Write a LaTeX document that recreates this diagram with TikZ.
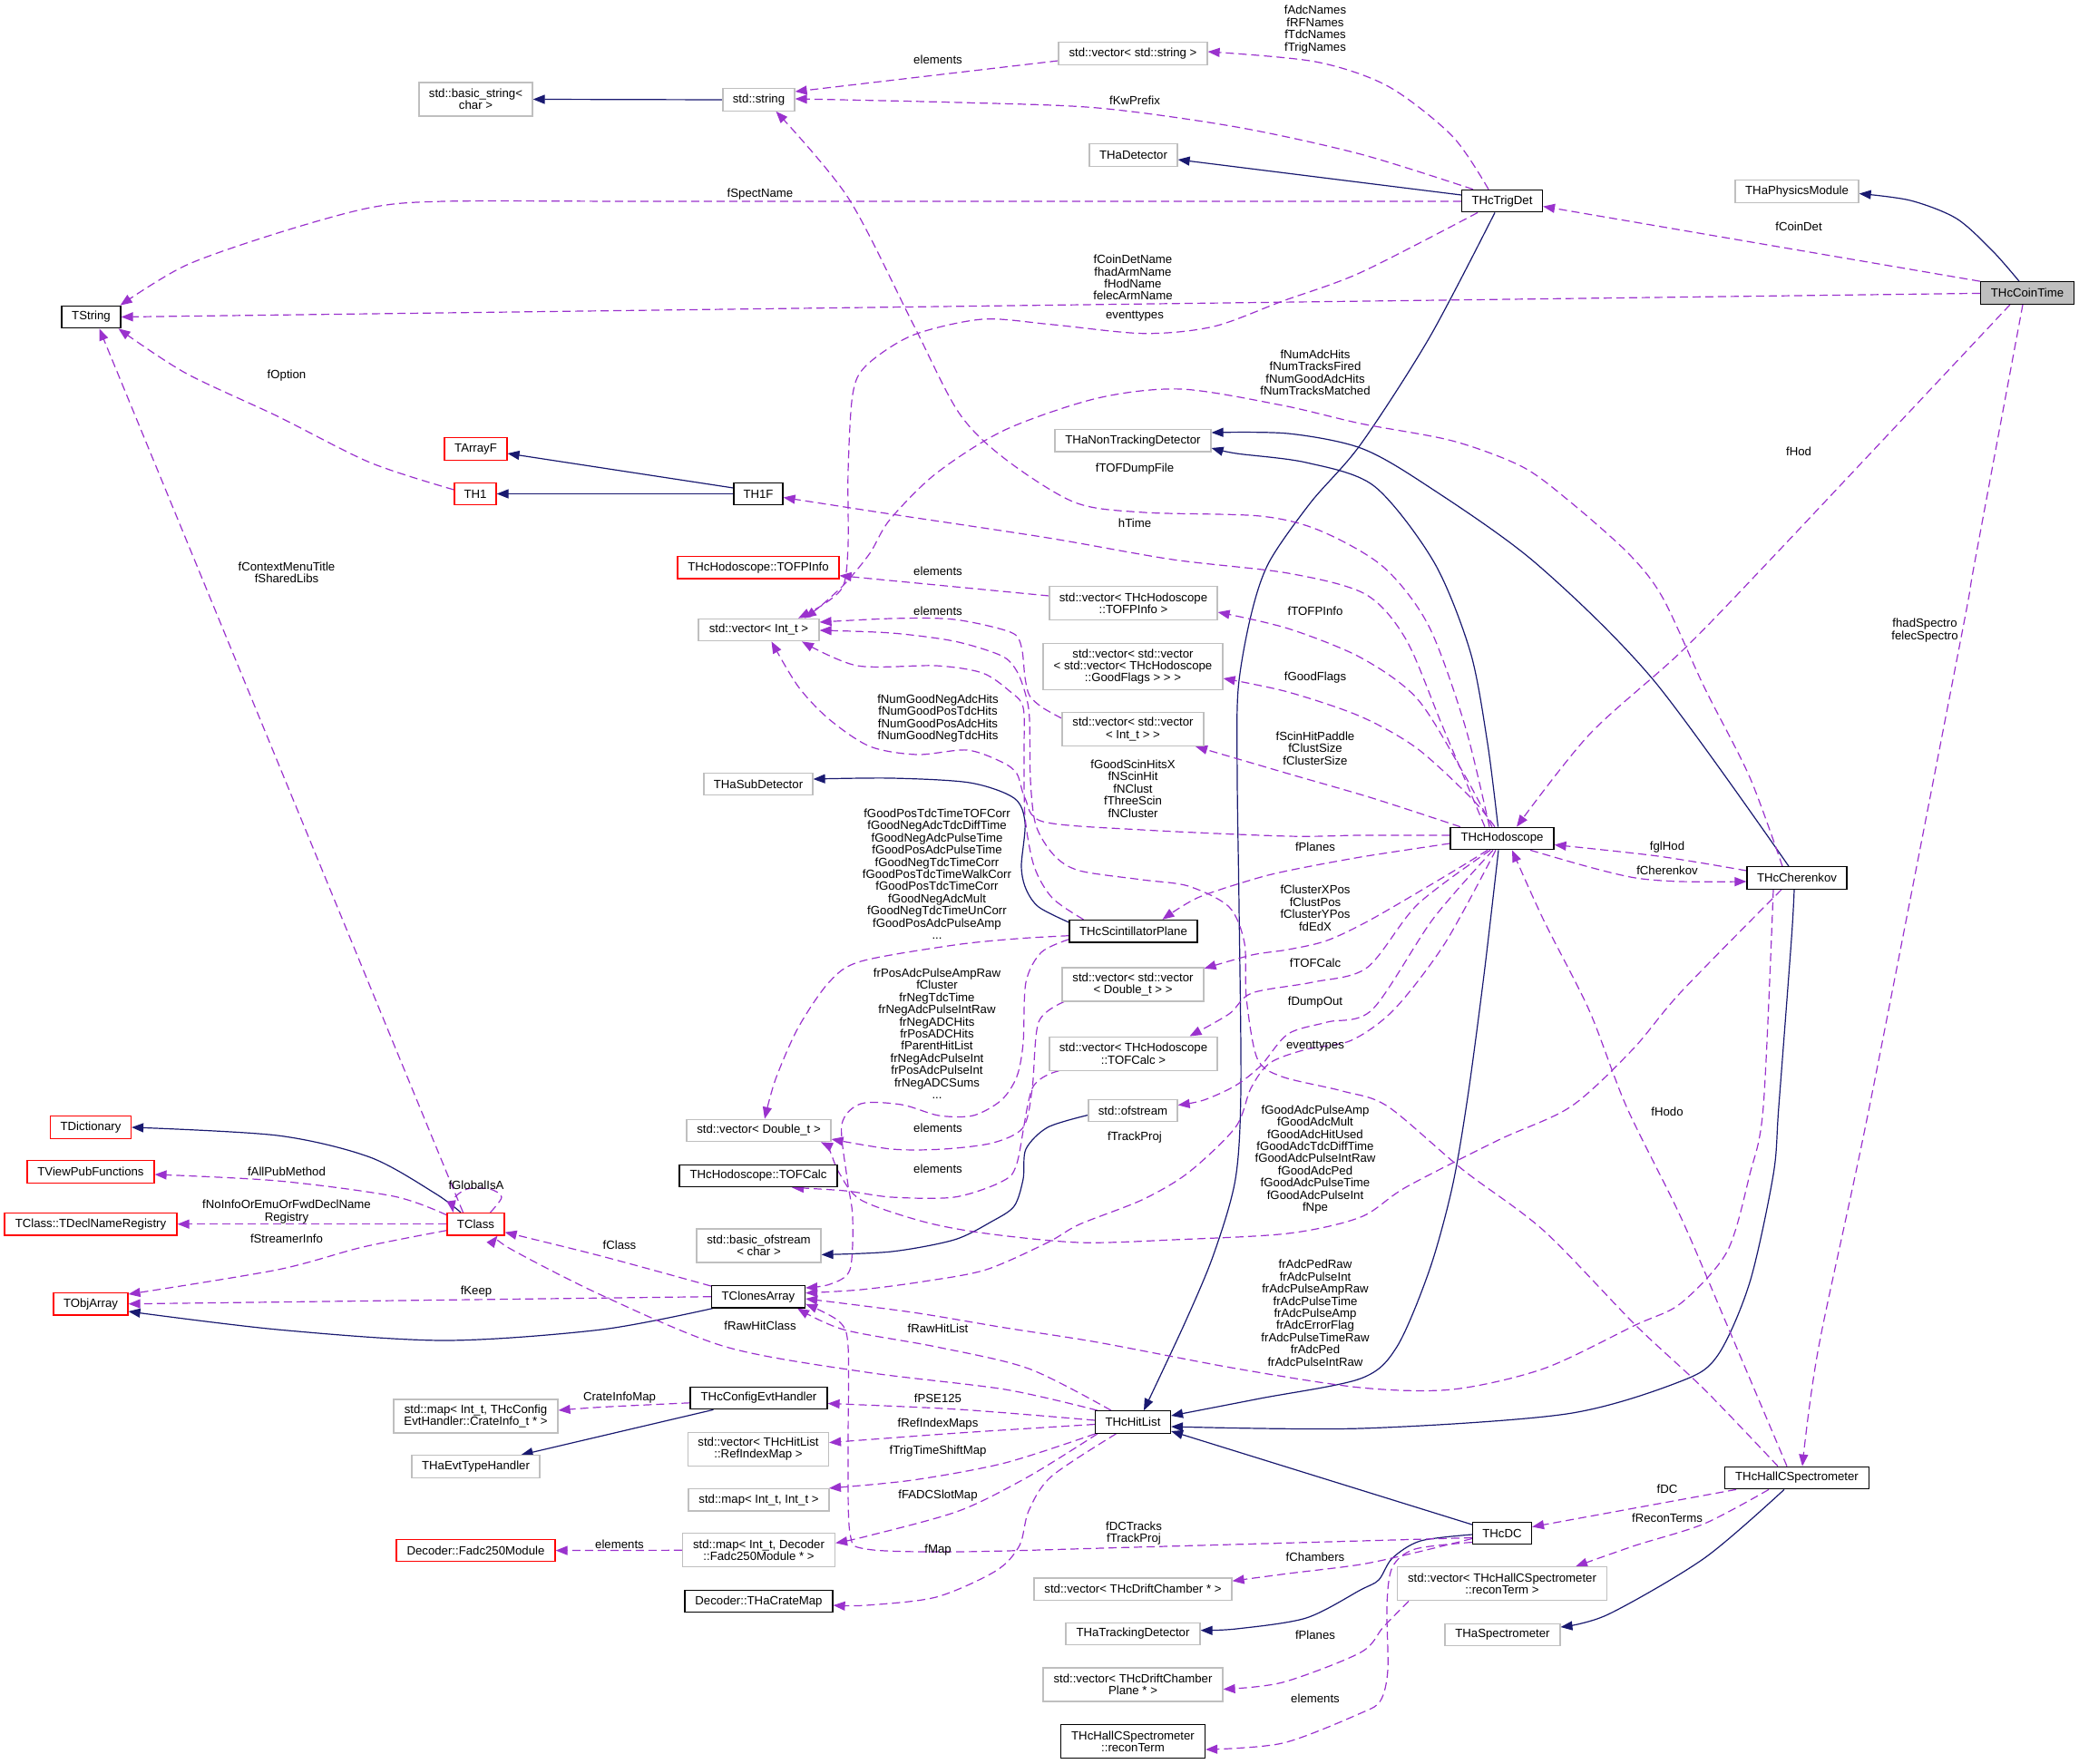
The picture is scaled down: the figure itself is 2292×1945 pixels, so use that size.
\documentclass[tikz,border=0pt]{standalone}
\usepackage{fontspec}
\setmainfont{Liberation Sans}
\usetikzlibrary{arrows.meta,backgrounds}
\definecolor{eblue}{HTML}{191970}
\definecolor{epurp}{HTML}{9A32CD}
\definecolor{bgray}{HTML}{BFBFBF}
\tikzset{
 nb/.style={draw, line width=1.2pt, fill=white, inner xsep=4pt, inner ysep=0pt, minimum height=24.5pt, align=center, font=\fontsize{13.2}{13.4}\selectfont},
 gb/.style={nb, draw=bgray},
 rb/.style={nb, draw=red},
 kb/.style={nb, draw=black},
 h2/.style={minimum height=37pt},
 h3/.style={minimum height=50.6pt},
 lb/.style={inner sep=0pt, align=center, font=\fontsize{13.2}{13.4}\selectfont},
 inh/.style={draw=eblue, line width=1.2pt, -{Triangle[length=13pt,width=10pt]}},
 use/.style={draw=epurp, line width=1.2pt, dash pattern=on 9pt off 5pt, -{Triangle[length=13pt,width=10pt]}},
}
\begin{document}
\begin{tikzpicture}[x=1pt,y=-1pt]
\useasboundingbox (0,0) rectangle (2292,1945);
% ---------------- nodes ----------------
\node[gb, minimum width=125pt, h2] (bstr) at (524.5,109.5) {std::basic\_string<\\char >};
\node[gb, minimum width=79pt] (str) at (836.5,110) {std::string};
\node[gb, minimum width=164pt] (vstr) at (1249,59) {std::vector< std::string >};
\node[gb, minimum width=97pt] (thadet) at (1249.5,171) {THaDetector};
\node[kb, minimum width=89pt] (trig) at (1656,221.6) {THcTrigDet};
\node[gb, minimum width=136pt] (phys) at (1981,211) {THaPhysicsModule};
\node[kb, fill=bgray, minimum width=103pt] (coin) at (2235,323) {THcCoinTime};
\node[kb, minimum width=65pt] (tstr) at (100.5,349.5) {TString};
\node[rb, minimum width=69pt] (tarrf) at (524.5,495) {TArrayF};
\node[rb, minimum width=46pt] (th1) at (524,544.5) {TH1};
\node[kb, minimum width=54pt] (th1f) at (836,544.5) {TH1F};
\node[gb, minimum width=172pt] (nontrk) at (1249,485.7) {THaNonTrackingDetector};
\node[rb, minimum width=178pt] (tofpinfo) at (836,625.7) {THcHodoscope::TOFPInfo};
\node[gb, minimum width=185pt, h2] (vtofp) at (1249.5,665) {std::vector< THcHodoscope\\::TOFPInfo >};
\node[gb, minimum width=133pt] (vint) at (836.5,694.5) {std::vector< Int\_t >};
\node[gb, minimum width=198pt, h3] (vgf) at (1249,735) {std::vector< std::vector\\< std::vector< THcHodoscope\\::GoodFlags > > >};
\node[gb, minimum width=156pt, h2] (vvint) at (1249,804) {std::vector< std::vector\\< Int\_t > >};
\node[gb, minimum width=120pt] (subdet) at (836,864.4) {THaSubDetector};
\node[kb, minimum width=114pt] (hodo) at (1656,924.5) {THcHodoscope};
\node[kb, minimum width=110pt] (cher) at (1981,968) {THcCherenkov};
\node[kb, minimum width=141pt] (scin) at (1249.5,1026.7) {THcScintillatorPlane};
\node[gb, minimum width=156pt, h2] (vvdbl) at (1249,1085.5) {std::vector< std::vector\\< Double\_t > >};
\node[gb, minimum width=185pt, h2] (vtofc) at (1249.5,1161.6) {std::vector< THcHodoscope\\::TOFCalc >};
\node[gb, minimum width=98pt] (ofs) at (1249,1224.5) {std::ofstream};
\node[gb, minimum width=159pt] (vdbl) at (836.5,1246.5) {std::vector< Double\_t >};
\node[kb, minimum width=174pt] (tofcalc) at (836,1296.5) {THcHodoscope::TOFCalc};
\node[gb, minimum width=137pt, h2] (bofs) at (836.5,1373.4) {std::basic\_ofstream\\< char >};
\node[kb, minimum width=103pt] (tca) at (836,1429.7) {TClonesArray};
\node[rb, minimum width=89pt] (tdict) at (100,1243) {TDictionary};
\node[rb, minimum width=140pt] (tview) at (100,1292) {TViewPubFunctions};
\node[rb, minimum width=190pt] (tdecl) at (100,1349.7) {TClass::TDeclNameRegistry};
\node[rb, minimum width=82pt] (tobj) at (100,1437.7) {TObjArray};
\node[rb, minimum width=63pt] (tclass) at (524.5,1349.7) {TClass};
\node[kb, minimum width=151pt] (cfg) at (836.5,1541.5) {THcConfigEvtHandler};
\node[gb, minimum width=181pt, h2] (mapcrate) at (524.5,1561.5) {std::map< Int\_t, THcConfig\\EvtHandler::CrateInfo\_t * >};
\node[gb, minimum width=141pt] (evth) at (524.5,1617) {THaEvtTypeHandler};
\node[kb, minimum width=83pt] (hitlist) at (1249,1568) {THcHitList};
\node[gb, minimum width=155pt, h2] (vref) at (836,1597.6) {std::vector< THcHitList\\::RefIndexMap >};
\node[gb, minimum width=155pt] (mapii) at (836.5,1653.7) {std::map< Int\_t, Int\_t >};
\node[gb, minimum width=168pt, h2] (mapfadc) at (836.5,1709.3) {std::map< Int\_t, Decoder\\::Fadc250Module * >};
\node[rb, minimum width=175pt] (fadc) at (524.5,1709.6) {Decoder::Fadc250Module};
\node[kb, minimum width=163pt] (crate) at (836.5,1765.6) {Decoder::THaCrateMap};
\node[kb, minimum width=159pt] (hcs) at (1981,1629.5) {THcHallCSpectrometer};
\node[kb, minimum width=65pt] (dc) at (1656,1690.5) {THcDC};
\node[gb, minimum width=218pt] (vdch) at (1249,1752.2) {std::vector< THcDriftChamber * >};
\node[gb, minimum width=231pt, h2] (vrecon) at (1656,1746.3) {std::vector< THcHallCSpectrometer\\::reconTerm >};
\node[gb, minimum width=148pt] (trkdet) at (1249,1801.4) {THaTrackingDetector};
\node[gb, minimum width=127pt] (spec) at (1656.4,1802.6) {THaSpectrometer};
\node[gb, minimum width=198pt, h2] (vdcp) at (1249,1857.5) {std::vector< THcDriftChamber\\Plane * >};
\node[kb, minimum width=159pt, h2] (recon) at (1249,1920) {THcHallCSpectrometer\\::reconTerm};
% ---------------- labels ----------------
\node[lb] (l1) at (1034,65.6) {elements};
\node[lb] (l2) at (1450,32.5) {fAdcNames\\fRFNames\\fTdcNames\\fTrigNames};
\node[lb] (l3) at (1251,110.7) {fKwPrefix};
\node[lb] (l4) at (838,214) {fSpectName};
\node[lb] (l5) at (1983,250) {fCoinDet};
\node[lb] (l6) at (1249,306) {fCoinDetName\\fhadArmName\\fHodName\\felecArmName};
\node[lb] (l7) at (1251,349) {eventtypes};
\node[lb] (l8) at (316,413.6) {fOption};
\node[lb] (l9) at (1450,410.6) {fNumAdcHits\\fNumTracksFired\\fNumGoodAdcHits\\fNumTracksMatched};
\node[lb] (l10) at (1983,498) {fHod};
\node[lb] (l11) at (1251,517) {fTOFDumpFile};
\node[lb] (l12) at (1251,577) {hTime};
\node[lb] (l13) at (316,631) {fContextMenuTitle\\fSharedLibs};
\node[lb] (l14) at (1034,629.7) {elements};
\node[lb] (l15) at (1450,674) {fTOFPInfo};
\node[lb] (l16) at (1034,673.5) {elements};
\node[lb] (l17) at (2122,695) {fhadSpectro\\felecSpectro};
\node[lb] (l18) at (1450,746.7) {fGoodFlags};
\node[lb] (l19) at (1034,792) {fNumGoodNegAdcHits\\fNumGoodPosTdcHits\\fNumGoodPosAdcHits\\fNumGoodNegTdcHits};
\node[lb] (l20) at (1450,825) {fScinHitPaddle\\fClustSize\\fClusterSize};
\node[lb] (l21) at (1249,869.5) {fGoodScinHitsX\\fNScinHit\\fNClust\\fThreeScin\\fNCluster};
\node[lb] (l22) at (1033,963.8) {fGoodPosTdcTimeTOFCorr\\fGoodNegAdcTdcDiffTime\\fGoodNegAdcPulseTime\\fGoodPosAdcPulseTime\\fGoodNegTdcTimeCorr\\fGoodPosTdcTimeWalkCorr\\fGoodPosTdcTimeCorr\\fGoodNegAdcMult\\fGoodNegTdcTimeUnCorr\\fGoodPosAdcPulseAmp\\...};
\node[lb] (l23) at (1838,934.5) {fglHod};
\node[lb] (l24) at (1450,933.3) {fPlanes};
\node[lb] (l25) at (1838,960) {fCherenkov};
\node[lb] (l26) at (1450,1001.3) {fClusterXPos\\fClustPos\\fClusterYPos\\fdEdX};
\node[lb] (l27) at (1450,1061.5) {fTOFCalc};
\node[lb] (l28) at (1033,1139.7) {frPosAdcPulseAmpRaw\\fCluster\\frNegTdcTime\\frNegAdcPulseIntRaw\\frNegADCHits\\frPosADCHits\\fParentHitList\\frNegAdcPulseInt\\frPosAdcPulseInt\\frNegADCSums\\...};
\node[lb] (l29) at (1450,1105.3) {fDumpOut};
\node[lb] (l30) at (1450,1153.6) {eventtypes};
\node[lb] (l31) at (1450,1278.4) {fGoodAdcPulseAmp\\fGoodAdcMult\\fGoodAdcHitUsed\\fGoodAdcTdcDiffTime\\fGoodAdcPulseIntRaw\\fGoodAdcPed\\fGoodAdcPulseTime\\fGoodAdcPulseInt\\fNpe};
\node[lb] (l32) at (1838,1226) {fHodo};
\node[lb] (l33) at (1034,1244.2) {elements};
\node[lb] (l34) at (1251,1254) {fTrackProj};
\node[lb] (l35) at (1034,1288.4) {elements};
\node[lb] (l36) at (316,1292) {fAllPubMethod};
\node[lb] (l37) at (525,1306.4) {fGlobalIsA};
\node[lb] (l38) at (316,1335.9) {fNoInfoOrEmuOrFwdDeclName\\Registry};
\node[lb] (l39) at (316,1365.3) {fStreamerInfo};
\node[lb] (l40) at (683,1372.4) {fClass};
\node[lb] (l41) at (1450,1447.8) {frAdcPedRaw\\frAdcPulseInt\\frAdcPulseAmpRaw\\frAdcPulseTime\\frAdcPulseAmp\\frAdcErrorFlag\\frAdcPulseTimeRaw\\frAdcPed\\frAdcPulseIntRaw};
\node[lb] (l42) at (525,1424.2) {fKeep};
\node[lb] (l43) at (838,1461.3) {fRawHitClass};
\node[lb] (l44) at (1034,1465) {fRawHitList};
\node[lb] (l45) at (683,1541) {CrateInfoMap};
\node[lb] (l46) at (1034,1542) {fPSE125};
\node[lb] (l47) at (1034,1570.5) {fRefIndexMaps};
\node[lb] (l48) at (1034,1600.5) {fTrigTimeShiftMap};
\node[lb] (l49) at (1838,1641.3) {fDC};
\node[lb] (l50) at (1034,1649.4) {fFADCSlotMap};
\node[lb] (l51) at (1838,1674) {fReconTerms};
\node[lb] (l52) at (1250,1690.7) {fDCTracks\\fTrackProj};
\node[lb] (l53) at (683,1702.6) {elements};
\node[lb] (l54) at (1034,1709.3) {fMap};
\node[lb] (l55) at (1450,1716.4) {fChambers};
\node[lb] (l56) at (1450,1802.4) {fPlanes};
\node[lb] (l57) at (1450,1873) {elements};
% ---------------- edges ----------------
\begin{scope}[on background layer]
% inheritance
\draw[inh] (str.west) -- (bstr.east);
\draw[inh] ([yshift=6.6]trig.west) -- ([yshift=-5]thadet.east);
\draw[inh] plot[smooth] coordinates {([xshift=-9]coin.north) (2197,277) (2157,241) (2106,221) ([yshift=-2.5]phys.east)};
\draw[inh] ([yshift=6.5]th1f.west) -- ([yshift=-5]tarrf.east);
\draw[inh] (th1f.west) -- (th1.east);
\draw[inh] plot[smooth] coordinates {([xshift=-8]trig.south) (1576,372) (1500,490) (1445,554) (1399,620) (1379,679) (1365,760) (1364,860) (1366,1000) (1368,1200) (1362,1300) (1338,1383) (1307,1457) ([xshift=12]hitlist.north)};
\draw[inh] plot[smooth] coordinates {([xshift=-4.5]hodo.north) (1640,820) (1621,719) (1581,620) (1515,536) (1440,510) (1363,500) ([yshift=-8.3]nontrk.east)};
\draw[inh] plot[smooth] coordinates {([xshift=-9]cher.north) (1823,750) (1692,620) (1571,534) (1500,494) (1420,478) ([yshift=8.7]nontrk.east)};
\draw[inh] plot[smooth] coordinates {([yshift=9.7]scin.west) (1145,1000) (1131,980) (1126,955) (1130,907) (1118,880) (1069,863) (983,858) ([yshift=5.4]subdet.east)};
\draw[inh] plot[smooth] coordinates {([yshift=-5]ofs.west) (1155,1243) (1131,1267) (1128,1300) (1118,1330) (1093,1347) (1052,1367) (983,1380) ([yshift=-10]bofs.east)};
\draw[inh] plot[smooth] coordinates {([xshift=-16.5]tclass.north) (480,1316) (408,1276) (306,1252) (tdict.east)};
\draw[inh] plot[smooth] coordinates {([xshift=-50]tca.south) (663,1466) (490,1478) (306,1466) ([yshift=-8.3]tobj.east)};
\draw[inh] ([xshift=-50]cfg.south) -- ([xshift=50]evth.north);
\draw[inh] plot[smooth] coordinates {([xshift=-4]hodo.south) (1636,1075) (1618,1210) (1601,1309) (1576,1400) (1540,1485) (1500,1520) (1389,1542) ([yshift=7]hitlist.east)};
\draw[inh] plot[smooth] coordinates {([xshift=-3]cher.south) (1975,1035) (1961,1220) (1955,1295) (1929,1414) (1894,1494) (1853,1523) (1727,1559) (1500,1575) ([yshift=-5]hitlist.east)};
\draw[inh] ([yshift=9.5]dc.west) -- ([yshift=-10]hitlist.east);
\draw[inh] plot[smooth] coordinates {([yshift=-1.5]dc.west) (1566,1699) (1535,1718) (1520,1742) (1500,1753) (1440,1784) (1363,1796) ([yshift=3.8]trkdet.east)};
\draw[inh] plot[smooth] coordinates {([xshift=-14]hcs.south) (1879,1718) (1773,1780) ([yshift=8.6]spec.east)};
% usage
\draw[use] ([yshift=-8]vstr.west) -- ([yshift=9]str.east);
\draw[use] plot[smooth] coordinates {([xshift=-15]trig.north) (1601,150) (1530,95) (1450,68) ([yshift=2]vstr.east)};
\draw[use] plot[smooth] coordinates {([xshift=-32]trig.north) (1500,170) (1363,140) (1210,119) (1057,113) ([yshift=1]str.east)};
\draw[use] plot[smooth] coordinates {([yshift=-0.4]trig.west) (1300,222) (1000,222) (700,222) (490,222) (408,229) (306,257) (204,293) ([xshift=-1]tstr.north east)};
\draw[use] ([yshift=-0.4]coin.west) -- (tstr.east);
\draw[use] plot[smooth] coordinates {([xshift=-27]trig.south) (1500,300.5) (1414,332) (1338,360) (1261,367.7) (1159,357.8) (1083,352) (1006,369.7) (955,403) (940,435) (935,520) (935,600) (930,645) (910,665) ([xshift=43.5]vint.north)};
\draw[use] plot[smooth] coordinates {([xshift=-16]cher.north) (1929,857) (1879,758) (1833,659) (1795,610) (1727,550) (1677,514) (1601,486) (1500,467) (1414,447) (1302,429) (1210,439) (1108,474) (1032,522) (981,573) (959,610) (932,643) (905,668) ([xshift=50.5]vint.north)};
\draw[use] (coin.north west) -- ([yshift=-6]trig.east);
\draw[use] plot[smooth] coordinates {([xshift=-19]coin.south) (1949,620) (1853,719) (1752,810) ([xshift=16]hodo.north)};
\draw[use] plot[smooth] coordinates {([xshift=-5]coin.south) (2177,620) (2162,703) (2061,1220) (2005,1485) ([xshift=6]hcs.north)};
\draw[use] plot[smooth] coordinates {([xshift=-11]hodo.north) (1612,850) (1562,770) (1500,725) (1420,693) ([yshift=-10]vtofp.east)};
\draw[use] plot[smooth] coordinates {([xshift=-8]hodo.north) (1622,880) (1562,825) (1500,790) (1420,763) ([yshift=-13]vgf.east)};
\draw[use] plot[smooth] coordinates {([xshift=-46]hodo.north) (1513,880) (1420,853) ([xshift=69]vvint.south)};
\draw[use] plot[smooth] coordinates {([xshift=-19]hodo.north) (1590,800) (1550,705) (1505,655) (1420,632) (1293,617) (1155,593) (983,567) ([yshift=-4]th1f.east)};
\draw[use] plot[smooth] coordinates {([xshift=-14]hodo.north) (1615,800) (1575,690) (1525,625) (1455,585) (1389,569) (1261,565) (1185,554) (1108,506) (1057,455) (1006,356) (935,218) ([xshift=19]str.south)};
\draw[use] ([yshift=8]vtofp.west) -- ([yshift=-9]tofpinfo.east);
\draw[use] plot[smooth] coordinates {([yshift=12]vvint.west) (1149,780) (1135,767) (1130,747) (1126,713) (1114,697) (1052,683) (983,682) ([yshift=8.5]vint.east)};
\draw[use] plot[smooth] coordinates {([xshift=-21]hcs.north) (1879,1532) (1803,1461) (1702,1357) (1613,1290) (1530,1220) (1480,1203) (1413,1187) (1386,1167) (1374,1100) (1372,1040) (1355,1000) (1310,977) (1259,970) (1190,960) (1162,943) (1142,910) (1136,860) (1135,793) (1131,767) (1121,740) (1104,723) (1052,707) (983,698) ([yshift=-0.5]vint.east)};
\draw[use] plot[smooth] coordinates {([yshift=3.5]hodo.west) (1500,921) (1420,922) (1259,915) (1150,906) (1130,880) (1121,853) (1104,840) (1066,827) (1011,832) (959,823) (914,793) (880,757) ([xshift=14]vint.south)};
\draw[use] plot[smooth] coordinates {([xshift=-55]scin.north) (1160,990) (1140,955) (1130,900) (1129,830) (1128,780) (1113,762) (1083,742) (1032,734) (945,734) ([xshift=47.5]vint.south)};
\draw[use] plot[smooth] coordinates {([yshift=-5]scin.west) (1121,1035) (1052,1042) (949,1060) (914,1083) (880,1133) (855,1190) ([xshift=6.5]vdbl.north)};
\draw[use] plot[smooth] coordinates {([yshift=-9]scin.west) (1148,1050) (1131,1083) (1128,1150) (1121,1187) (1104,1213) (1073,1230) (1035,1230) (994,1218) (949,1217) (928,1240) (934,1300) (940,1342) (937,1400) (915,1416) ([yshift=9.7]tca.east)};
\draw[use] plot[smooth] coordinates {([yshift=-5.5]hodo.west) (1500,945) (1420,960) (1380,970) (1320,990) ([xshift=32]scin.north)};
\draw[use] plot[smooth] coordinates {([xshift=-16]hodo.south) (1600,962) (1513,1013) (1463,1037) (1420,1047) (1380,1053) ([yshift=-1.5]vvdbl.north east)};
\draw[use] plot[smooth] coordinates {([xshift=-13]hodo.south) (1563,997) (1507,1067) (1447,1083) (1380,1095) (1355,1118) ([xshift=62]vtofc.north)};
\draw[use] plot[smooth] coordinates {([xshift=-10]hodo.south) (1580,1013) (1513,1113) (1463,1127) (1420,1140) (1390,1175) (1362,1197) (1327,1213) ([yshift=6]ofs.east)};
\draw[use] plot[smooth] coordinates {([xshift=-7]hodo.south) (1593,1040) (1537,1113) (1490,1147) (1440,1157) (1400,1172) (1379,1200) (1362,1243) (1310,1293) (1259,1323) (1190,1350) (1155,1370) (1087,1400) (1018,1413) (949,1422) ([yshift=4]tca.east)};
\draw[use] plot[smooth] coordinates {([yshift=8]cher.west) (1828,944) ([yshift=-7]hodo.east)};
\draw[use] plot[smooth] coordinates {([xshift=31]hodo.south) (1752,956) (1803,968) (1853,972) ([yshift=-4]cher.west)};
\draw[use] plot[smooth] coordinates {([xshift=-11]hcs.north) (1904,1461) (1853,1342) (1793,1220) (1752,1114) (1702,1015) ([xshift=11]hodo.south)};
\draw[use] plot[smooth] coordinates {([xshift=-17]cher.south) (1853,1094) (1800,1157) (1732,1220) (1652,1257) (1550,1309) (1500,1342) (1420,1360) (1293,1367) (1190,1370) (1087,1360) (1018,1347) (949,1323) (925,1293) (914,1267) ([xshift=68.5]vdbl.south)};
\draw[use] plot[smooth] coordinates {([xshift=-26]cher.south) (1944,1220) (1929,1295) (1904,1380) (1853,1437) (1803,1461) (1702,1509) (1601,1532) (1500,1530) (1363,1509) (1210,1480) (1108,1464) (1006,1447) ([yshift=-2.3]tca.east)};
\draw[use] plot[smooth] coordinates {([xshift=-76]vvdbl.south) (1145,1127) (1138,1200) (1128,1243) (1095,1260) (1040,1267) (983,1267) ([yshift=-9.5]vdbl.east)};
\draw[use] plot[smooth] coordinates {([xshift=-82]vtofc.south) (1138,1200) (1121,1283) (1104,1303) (1052,1320) (983,1320) (932,1313) ([xshift=37]tofcalc.south)};
\draw[use] plot[smooth] coordinates {([yshift=11.7]tca.west) (663,1385) ([yshift=-9]tclass.east)};
\draw[use] (tca.west) -- (tobj.east);
\draw[use] plot[smooth] coordinates {([yshift=-7]tclass.west) (400,1375) (306,1400) ([yshift=10.7]tobj.east)};
\draw[use] (tclass.west) -- (tdecl.east);
\draw[use] plot[smooth] coordinates {([yshift=10]tclass.west) (434,1319) (306,1302) ([yshift=-3]tview.east)};
\draw[use] plot[smooth] coordinates {([xshift=16]tclass.north) (553,1320) (540,1311) (515,1311) (500,1322) ([xshift=-25]tclass.north)};
\draw[use] ([xshift=-14]tclass.north) -- ([xshift=9]tstr.south);
\draw[use] plot[smooth] coordinates {([yshift=4.5]th1.west) (408,510) (306,459) (204,411) ([xshift=30]tstr.south)};
\draw[use] plot[smooth] coordinates {([xshift=-39]hitlist.north) (1108,1532) (955,1513) (800,1485) (663,1428) (561,1376) ([xshift=24]tclass.south)};
\draw[use] plot[smooth] coordinates {([xshift=-24]hitlist.north) (1134,1509) (1032,1485) (930,1466) ([xshift=43]tca.south)};
\draw[use] plot[smooth] coordinates {([yshift=2]hitlist.west) (1057,1554) ([yshift=-6]cfg.east)};
\draw[use] plot[smooth] coordinates {([yshift=-2.5]hitlist.west) (1057,1580) ([yshift=7]vref.east)};
\draw[use] plot[smooth] coordinates {([xshift=-41.5]hitlist.south) (1108,1613) (1006,1632) ([xshift=77.5]mapii.north)};
\draw[use] plot[smooth] coordinates {([xshift=-39]hitlist.south) (1134,1628) (1057,1666) (955,1694) ([yshift=8]mapfadc.east)};
\draw[use] plot[smooth] coordinates {([xshift=-18.5]hitlist.south) (1159,1628) (1134,1666) (1124,1704) (1098,1732) (1032,1761) (955,1770) ([yshift=-4.4]crate.east)};
\draw[use] plot[smooth] coordinates {([yshift=-5.3]cfg.west) (663,1551.5) ([yshift=6.5]mapcrate.east)};
\draw[use] (mapfadc.west) -- (fadc.east);
\draw[use] plot[smooth] coordinates {([yshift=-5]dc.west) (1500,1699) (1250,1706) (1057,1711) (955,1708) (937,1690) (935,1600) (935,1485) (925,1457) ([yshift=-8]tca.east)};
\draw[use] ([xshift=-67]hcs.south) -- ([yshift=7]dc.east);
\draw[use] plot[smooth] coordinates {([xshift=-31]hcs.south) (1879,1680) (1803,1704) ([xshift=81]vrecon.north)};
\draw[use] plot[smooth] coordinates {([yshift=-6]dc.west) (1560,1712) (1500,1725) (1420,1735) ([yshift=9]vdch.east)};
\draw[use] plot[smooth] coordinates {([yshift=-10]dc.west) (1560,1708) (1535,1728) (1529,1770) (1530,1841) (1522,1875) (1500,1889) (1414,1922) ([yshift=-9]recon.east)};
\draw[use] plot[smooth] coordinates {([xshift=-103]vrecon.south) (1525,1794) (1500,1822) (1414,1855) ([yshift=-5]vdcp.east)};
\end{scope}
\end{tikzpicture}
\end{document}
